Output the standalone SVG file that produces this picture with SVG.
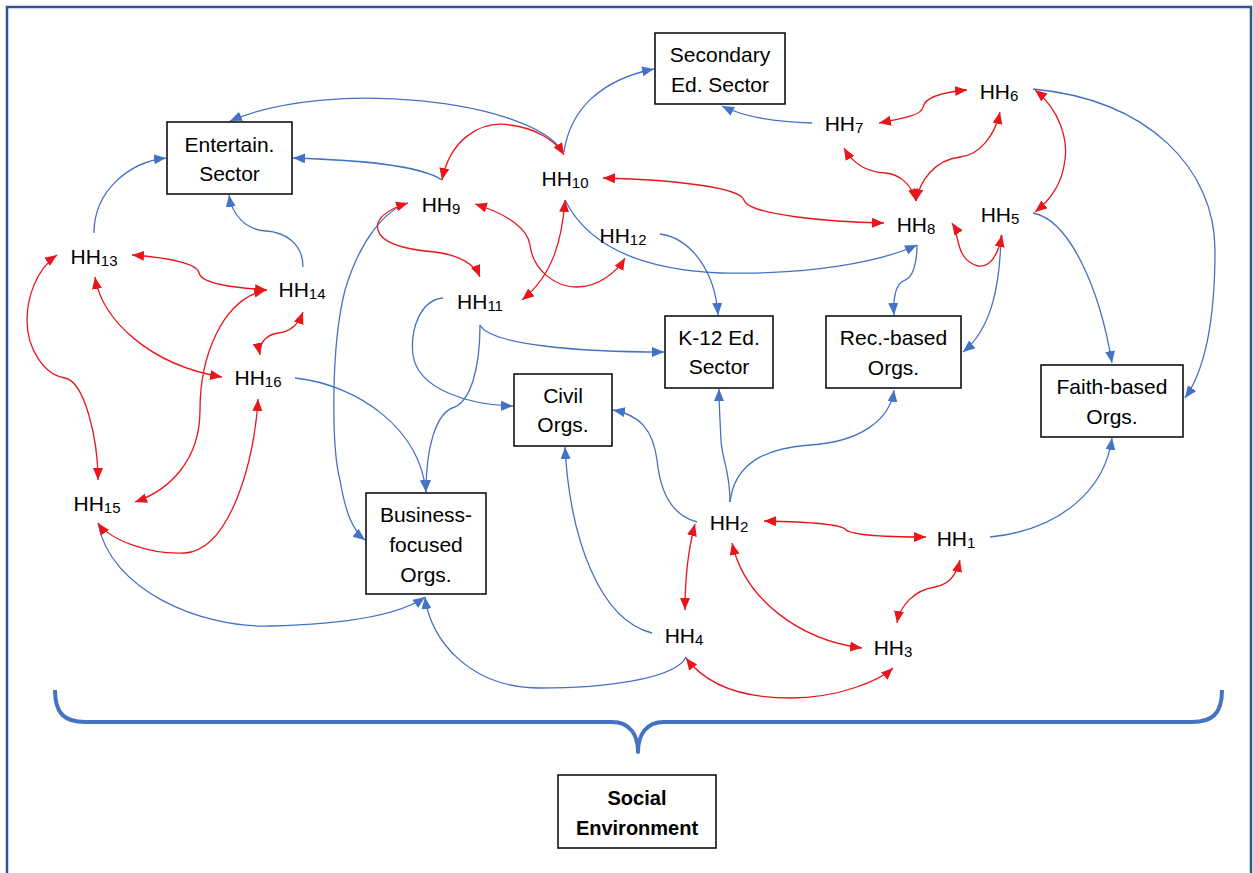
<svg xmlns="http://www.w3.org/2000/svg" width="1253" height="873" viewBox="0 0 1253 873">
  <defs>
    <marker id="ab" markerUnits="userSpaceOnUse" markerWidth="14" markerHeight="12" refX="12" refY="5" orient="auto-start-reverse">
      <path d="M0,0 L12,5 L0,10 z" fill="#4472C4"/>
    </marker>
    <marker id="ar" markerUnits="userSpaceOnUse" markerWidth="14" markerHeight="12" refX="12" refY="5" orient="auto-start-reverse">
      <path d="M0,0 L12,5 L0,10 z" fill="#E8161B"/>
    </marker>
    <style>
      .frame { fill: none; stroke: #2F5597; stroke-width: 2.5; }
      .box { fill: #ffffff; stroke: #000000; stroke-width: 1.5; }
      .bt { font-family: "Liberation Sans", Arial, sans-serif; font-size: 21px; fill: #000; text-anchor: middle; }
      .hh { font-family: "Liberation Sans", Arial, sans-serif; font-size: 21px; fill: #000; text-anchor: middle; }
      .sub { font-size: 15px; }
      .blue { fill: none; stroke: #4472C4; stroke-width: 1.3; }
      .red { fill: none; stroke: #E8161B; stroke-width: 1.3; }
      .b1 { marker-end: url(#ab); }
      .r2 { marker-start: url(#ar); marker-end: url(#ar); }
      .brace { fill: none; stroke: #4472C4; stroke-width: 4; stroke-linejoin: round; }
      .soc { font-family: "Liberation Sans", Arial, sans-serif; font-size: 20px; font-weight: bold; fill: #000; text-anchor: middle; }
    </style>
  </defs>

  <rect x="0" y="0" width="1253" height="873" fill="#ffffff"/>
  <rect class="frame" x="7" y="7" width="1244" height="900"/>

  <!-- connectors -->
  <g id="connectors">
    <!-- blue: influence on organisations / sectors -->
    <path class="blue b1" d="M563,152 C530,100 330,78 230,121"/>
    <path class="blue b1" d="M564,152 C570,110 600,80 654,69"/>
    <path class="blue b1" d="M812,123 C770,122 742,116 722,106"/>
    <path class="blue b1" d="M442,180 C420,165 360,160 293,158"/>
    <path class="blue b1" d="M94,233 C94,190 130,162 166,158"/>
    <path class="blue b1" d="M303,267 C303,242 283,232 266,231 C246,230 232,215 229,195"/>
    <path class="blue b1" d="M565,200 C590,250 650,270 720,273 C810,275 880,262 917,245"/>
    <path class="blue b1" d="M917,245 C917,265 912,278 905,280 C895,283 893,300 894,315"/>
    <path class="blue b1" d="M1001,235 C1000,290 990,330 963,352"/>
    <path class="blue b1" d="M1033,89 C1150,100 1215,170 1215,250 C1215,320 1205,370 1185,398"/>
    <path class="blue b1" d="M1033,213 C1070,220 1100,290 1112,363"/>
    <path class="blue b1" d="M660,234 C690,238 715,270 718,315"/>
    <path class="blue b1" d="M408,203 C385,210 360,240 345,290 C330,350 332,450 340,480 C345,510 352,530 365,540"/>
    <path class="blue b1" d="M443,298 C420,300 410,330 413,355 C418,390 470,405 513,406"/>
    <path class="blue b1" d="M480,325 C490,345 580,352 664,352"/>
    <path class="blue b1" d="M480,325 C480,370 470,400 455,407 C435,412 426,450 426,492"/>
    <path class="blue b1" d="M295,378 C360,385 420,430 426,492"/>
    <path class="blue b1" d="M98,523 C110,590 200,628 270,626 C350,624 400,615 425,597"/>
    <path class="blue b1" d="M686,657 C675,680 600,688 540,688 C470,688 430,640 425,597"/>
    <path class="blue b1" d="M652,633 C600,620 570,540 565,447"/>
    <path class="blue b1" d="M697,522 C670,515 660,490 657,460 C653,430 640,415 613,410"/>
    <path class="blue b1" d="M730,502 C730,470 722,460 721,440 C720,420 719,405 719,389"/>
    <path class="blue b1" d="M730,502 C735,460 770,448 810,445 C860,442 890,420 894,390"/>
    <path class="blue b1" d="M990,537 C1060,530 1105,490 1112,438"/>

    <!-- red: household ties -->
    <path class="red r2" d="M442,180 C450,140 480,120 510,125 C535,128 555,140 564,155"/>
    <path class="red r2" d="M603,178 C680,180 740,188 744,200 C748,215 830,222 884,223"/>
    <path class="red r2" d="M879,123 C905,118 922,115 923,107 C925,97 945,92 967,90"/>
    <path class="red r2" d="M844,148 C852,162 865,172 885,173 C900,174 912,185 916,201"/>
    <path class="red r2" d="M1000,112 C995,135 980,155 960,157 C935,160 920,180 916,201"/>
    <path class="red r2" d="M1035,90 C1060,110 1068,140 1065,160 C1062,185 1050,200 1035,212"/>
    <path class="red r2" d="M952,223 C960,235 955,260 978,266 C995,268 1000,245 1002,235"/>
    <path class="red r2" d="M475,204 C510,215 528,230 530,245 C533,270 555,287 577,287 C600,287 618,270 625,258"/>
    <path class="red r2" d="M565,200 C562,240 553,275 522,300"/>
    <path class="red r2" d="M408,203 C385,210 375,220 378,230 C382,245 410,250 435,252 C460,255 475,265 480,277"/>
    <path class="red r2" d="M764,521 C810,522 840,524 845,529 C850,536 890,537 926,537"/>
    <path class="red r2" d="M695,524 C688,550 685,580 685,610"/>
    <path class="red r2" d="M732,543 C745,600 800,640 862,648"/>
    <path class="red r2" d="M960,560 C955,580 945,585 935,587 C915,590 900,605 897,623"/>
    <path class="red r2" d="M686,658 C710,690 750,698 790,698 C840,698 880,680 893,668"/>
    <path class="red r2" d="M132,255 C175,258 198,265 199,273 C202,285 240,288 267,290"/>
    <path class="red r2" d="M266,290 C220,300 200,360 200,410 C200,460 170,490 135,502"/>
    <path class="red r2" d="M95,277 C102,320 150,365 222,377"/>
    <path class="red r2" d="M303,312 C298,325 290,332 278,333 C265,335 258,345 260,355"/>
    <path class="red r2" d="M57,255 C35,270 27,300 27,320 C27,350 45,375 65,378 C85,382 98,440 98,480"/>
    <path class="red r2" d="M258,399 C255,460 230,550 185,553 C150,555 110,540 98,523"/>
  </g>

  <!-- sector / organisation nodes -->
  <g id="secondary-ed">
    <rect class="box" x="655" y="33" width="130" height="71"/>
    <text class="bt" x="720" y="62">Secondary</text>
    <text class="bt" x="720" y="92">Ed. Sector</text>
  </g>
  <g id="entertain">
    <rect class="box" x="167" y="122" width="125" height="72"/>
    <text class="bt" x="229.5" y="152">Entertain.</text>
    <text class="bt" x="229.5" y="181">Sector</text>
  </g>
  <g id="k12-ed">
    <rect class="box" x="665" y="316" width="108" height="72"/>
    <text class="bt" x="719" y="345">K-12 Ed.</text>
    <text class="bt" x="719" y="374">Sector</text>
  </g>
  <g id="civil">
    <rect class="box" x="514" y="374" width="98" height="72"/>
    <text class="bt" x="563" y="403">Civil</text>
    <text class="bt" x="563" y="432">Orgs.</text>
  </g>
  <g id="rec-based">
    <rect class="box" x="826" y="316" width="135" height="72"/>
    <text class="bt" x="893.5" y="345">Rec.-based</text>
    <text class="bt" x="893.5" y="375">Orgs.</text>
  </g>
  <g id="faith-based">
    <rect class="box" x="1041" y="365" width="142" height="72"/>
    <text class="bt" x="1112" y="394">Faith-based</text>
    <text class="bt" x="1112" y="424">Orgs.</text>
  </g>
  <g id="business">
    <rect class="box" x="366" y="493" width="120" height="101"/>
    <text class="bt" x="426" y="522">Business-</text>
    <text class="bt" x="426" y="552">focused</text>
    <text class="bt" x="426" y="582">Orgs.</text>
  </g>

  <!-- household nodes -->
  <g id="hh1"><text class="hh" x="956" y="546">HH<tspan class="sub" dy="2">1</tspan></text></g>
  <g id="hh2"><text class="hh" x="729" y="530">HH<tspan class="sub" dy="2">2</tspan></text></g>
  <g id="hh3"><text class="hh" x="893" y="655">HH<tspan class="sub" dy="2">3</tspan></text></g>
  <g id="hh4"><text class="hh" x="684" y="643">HH<tspan class="sub" dy="2">4</tspan></text></g>
  <g id="hh5"><text class="hh" x="1000" y="222">HH<tspan class="sub" dy="2">5</tspan></text></g>
  <g id="hh6"><text class="hh" x="999" y="99">HH<tspan class="sub" dy="2">6</tspan></text></g>
  <g id="hh7"><text class="hh" x="844" y="131">HH<tspan class="sub" dy="2">7</tspan></text></g>
  <g id="hh8"><text class="hh" x="916" y="232">HH<tspan class="sub" dy="2">8</tspan></text></g>
  <g id="hh9"><text class="hh" x="441" y="212">HH<tspan class="sub" dy="2">9</tspan></text></g>
  <g id="hh10"><text class="hh" x="565" y="186">HH<tspan class="sub" dy="2">10</tspan></text></g>
  <g id="hh11"><text class="hh" x="480" y="309">HH<tspan class="sub" dy="2">11</tspan></text></g>
  <g id="hh12"><text class="hh" x="623" y="243">HH<tspan class="sub" dy="2">12</tspan></text></g>
  <g id="hh13"><text class="hh" x="94" y="264">HH<tspan class="sub" dy="2">13</tspan></text></g>
  <g id="hh14"><text class="hh" x="302" y="297">HH<tspan class="sub" dy="2">14</tspan></text></g>
  <g id="hh15"><text class="hh" x="97" y="511">HH<tspan class="sub" dy="2">15</tspan></text></g>
  <g id="hh16"><text class="hh" x="258" y="385">HH<tspan class="sub" dy="2">16</tspan></text></g>

  <!-- brace grouping everything above as the social environment -->
  <path class="brace" d="M55,690 C55,714 65,722 85,722 L612,722 C630,722 638,735 638,752 C638,735 646,722 664,722 L1192,722 C1212,722 1222,714 1222,690"/>

  <g id="social-environment">
    <rect class="box" x="558" y="775" width="158" height="73"/>
    <text class="soc" x="637" y="805">Social</text>
    <text class="soc" x="637" y="835">Environment</text>
  </g>
</svg>
